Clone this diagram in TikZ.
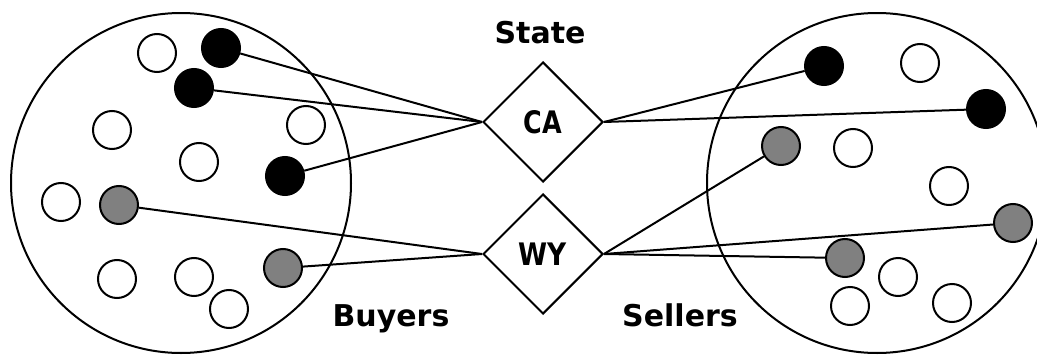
\documentclass[tikz,border=0pt]{standalone}
\usepackage{fontspec}
\usepackage{graphicx}
\setmainfont{DejaVu Sans}
\usetikzlibrary{shapes.geometric}
\definecolor{midgray}{RGB}{128,128,128}
\tikzset{
  group/.style={draw, line width=2pt},
  member/.style={circle, draw, line width=2pt, minimum size=38pt, inner sep=0pt},
  empty/.style={member, fill=white},
  dark/.style={member, fill=black},
  mid/.style={member, fill=midgray},
  rel/.style={diamond, draw, line width=2pt, minimum width=120pt, minimum height=120pt, inner sep=0pt,
              font=\bfseries\fontsize{31}{34}\selectfont},
  caption/.style={font=\bfseries\fontsize{30}{33}\selectfont, inner sep=0pt, anchor=base},
  link/.style={line width=2pt}
}
\begin{document}
\begin{tikzpicture}[x=1pt,y=-1pt]
\useasboundingbox (0,0) rectangle (1037,356);
\fill[white] (0,0) rectangle (1037,356);

% the two populations
\draw[group] (181,183) circle (170);
\draw[group] (877,183) circle (170);

% buyers
\node[empty] (b1)  at (157,53)  {};
\node[dark]  (b2)  at (221,48)  {};
\node[dark]  (b3)  at (194,88)  {};
\node[empty] (b4)  at (112,130) {};
\node[empty] (b5)  at (306,125) {};
\node[empty] (b6)  at (199,162) {};
\node[dark]  (b7)  at (285,176) {};
\node[empty] (b8)  at (61,202)  {};
\node[mid]   (b9)  at (119,205) {};
\node[empty] (b10) at (117,279) {};
\node[empty] (b11) at (194,277) {};
\node[mid]   (b12) at (283,268) {};
\node[empty] (b13) at (229,309) {};

% sellers
\node[dark]  (s1)  at (824,66)  {};
\node[empty] (s2)  at (920,63)  {};
\node[dark]  (s3)  at (986,109) {};
\node[mid]   (s4)  at (781,146) {};
\node[empty] (s5)  at (853,148) {};
\node[empty] (s6)  at (949,186) {};
\node[mid]   (s7)  at (1013,223) {};
\node[mid]   (s8)  at (845,258) {};
\node[empty] (s9)  at (898,277) {};
\node[empty] (s10) at (850,306) {};
\node[empty] (s11) at (952,303) {};

% relationship diamonds
\node[rel] (ca) at (543,122) {\scalebox{0.82}[1]{CA}};
\node[rel] (wy) at (543,254) {\scalebox{0.85}[1]{WY}};

% captions, placed on their baselines
\node[caption] (state)   at (540,43)  {State};
\node[caption] (buyers)  at (391,326) {Buyers};
\node[caption] (sellers) at (680,326) {Sellers};

% links
\draw[link] (b2) -- (ca.west);
\draw[link] (b3) -- (ca.west);
\draw[link] (b7) -- (ca.west);
\draw[link] (ca.east) -- (s1);
\draw[link] (ca.east) -- (s3);
\draw[link] (b9) -- (wy.west);
\draw[link] (b12) -- (wy.west);
\draw[link] (wy.east) -- (s4);
\draw[link] (wy.east) -- (s7);
\draw[link] (wy.east) -- (s8);
\end{tikzpicture}
\end{document}
